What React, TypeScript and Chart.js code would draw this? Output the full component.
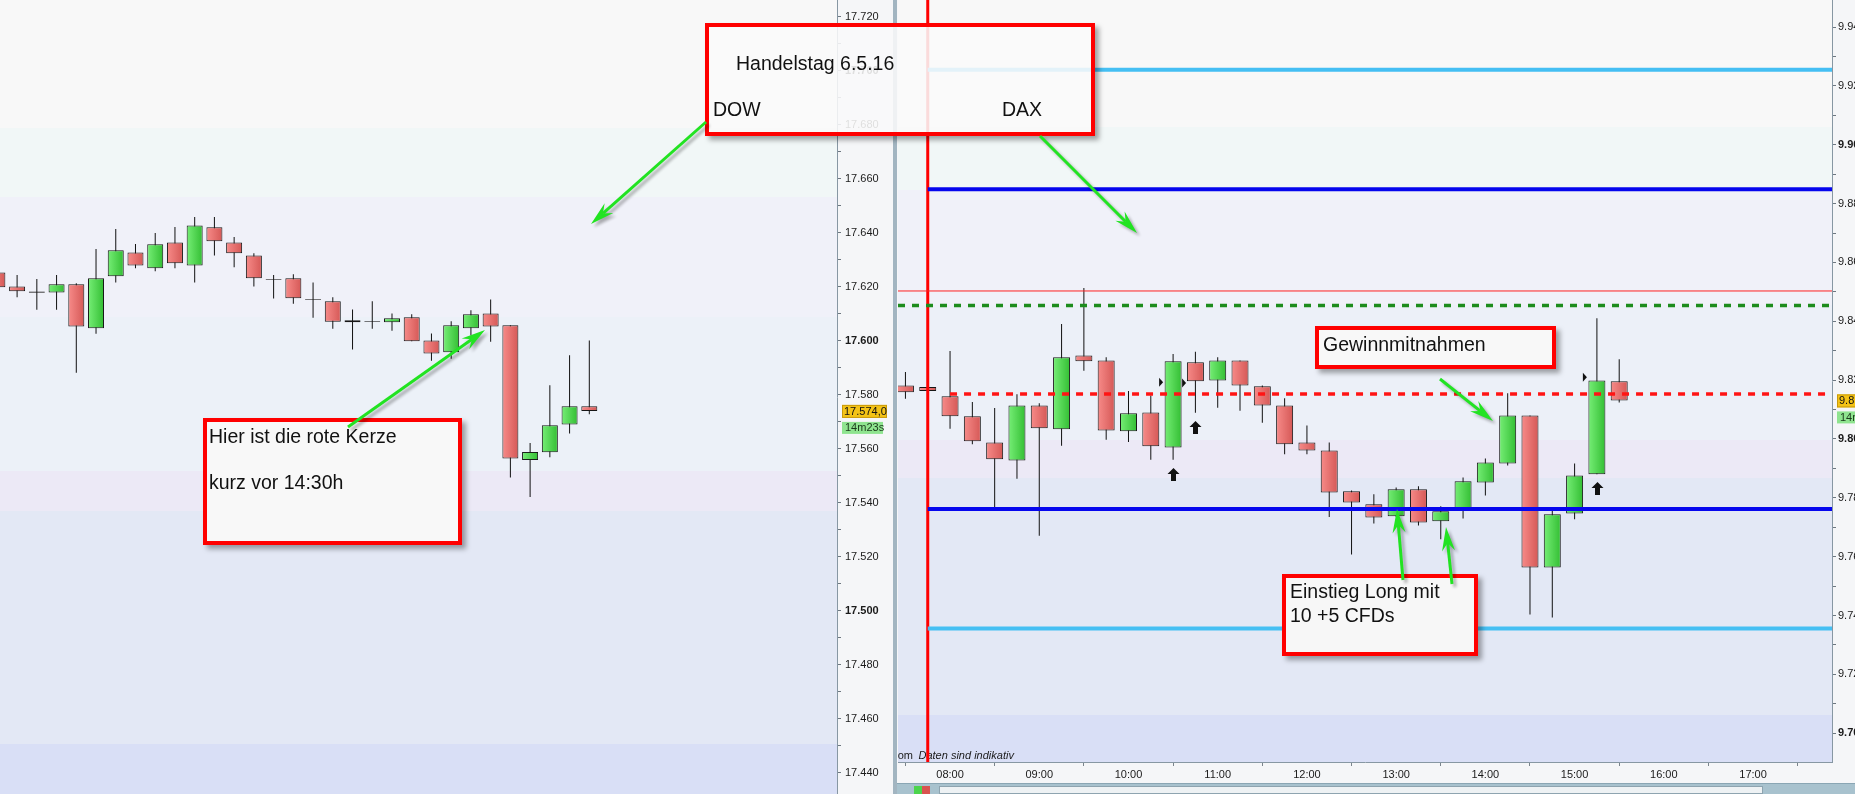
import React, { useEffect, useRef } from 'react';
import { Chart, registerables } from 'chart.js';

Chart.register(...registerables);

const AXIS_FONT = "'Liberation Sans', Arial, sans-serif";
const NOTE_FONT = "'Liberation Sans', Arial, sans-serif";

// ---------- DOW (15 min candles) ----------
const dowTimes = ['08:00','08:15','08:30','08:45','09:00','09:15','09:30','09:45','10:00','10:15','10:30','10:45','11:00','11:15','11:30','11:45','12:00','12:15','12:30','12:45','13:00','13:15','13:30','13:45','14:00','14:15','14:30','14:45','15:00','15:15','15:30'];
const dowOpen = [17625.3,17620.1,17618.2,17617.9,17620.9,17604.6,17623.9,17632.7,17626.8,17636.4,17627.9,17642.0,17636.4,17631.6,17622.8,17623.1,17615.4,17614.6,17606.8,17607.3,17606.8,17608.7,17600.1,17595.7,17604.6,17610.1,17605.7,17555.8,17558.7,17569.0,17575.7];
const dowHigh = [17626.0,17624.3,17622.9,17624.3,17621.3,17634.0,17641.4,17635.8,17639.9,17642.1,17645.8,17645.8,17638.4,17632.4,17624.3,17624.6,17621.6,17616.1,17611.6,17614.6,17610.1,17609.8,17602.7,17607.2,17611.3,17615.3,17605.7,17562.1,17583.5,17594.6,17600.1];
const dowLow = [17619.0,17616.1,17611.5,17611.5,17588.1,17602.6,17621.6,17626.8,17625.7,17626.8,17621.6,17631.6,17627.2,17620.1,17615.6,17613.7,17608.5,17604.4,17596.7,17604.4,17603.7,17599.8,17592.6,17593.3,17601.9,17599.6,17549.3,17542.1,17556.8,17565.6,17572.8];
const dowClose = [17619.8,17618.3,17617.8,17620.9,17605.3,17623.1,17633.5,17627.9,17635.7,17628.7,17642.7,17636.8,17632.4,17623.1,17622.5,17615.7,17615.1,17607.0,17607.6,17607.0,17608.3,17599.8,17595.3,17605.7,17609.8,17605.3,17556.4,17558.8,17568.7,17575.7,17574.0];
const dowYMin = 17432.1;
const dowYMax = 17726.2;
const dowXMin = 482.0;
const dowXMax = 1118.3;

// ---------- DAX (15 min candles) ----------
const daxTimes = ['07:30','07:45','08:00','08:15','08:30','08:45','09:00','09:15','09:30','09:45','10:00','10:15','10:30','10:45','11:00','11:15','11:30','11:45','12:00','12:15','12:30','12:45','13:00','13:15','13:30','13:45','14:00','14:15','14:30','14:45','15:00','15:15','15:30'];
const daxOpen = [9818.2,9817.7,9814.5,9807.7,9798.8,9792.7,9811.4,9803.3,9828.4,9826.7,9802.6,9809.0,9797.1,9826.1,9819.9,9826.7,9817.9,9811.4,9798.8,9796.1,9782.2,9777.8,9773.7,9782.9,9772.0,9776.4,9785.2,9791.7,9808.0,9756.3,9774.7,9788.0,9819.6];
const daxHigh = [9822.8,9817.7,9829.9,9812.6,9810.5,9815.2,9812.1,9839.1,9851.3,9827.8,9816.3,9814.8,9828.9,9829.6,9827.8,9826.7,9818.2,9813.8,9804.6,9798.8,9782.5,9781.2,9783.5,9783.9,9777.1,9786.9,9793.4,9815.5,9808.0,9775.7,9791.7,9841.0,9827.1];
const daxLow = [9813.7,9816.3,9803.5,9798.2,9776.9,9786.5,9767.1,9797.7,9823.2,9799.7,9799.0,9792.9,9792.9,9808.9,9810.6,9809.6,9805.5,9794.8,9794.8,9773.5,9760.7,9771.3,9773.5,9770.6,9765.9,9773.0,9780.8,9791.0,9740.3,9739.3,9772.7,9788.0,9812.4];
const daxClose = [9815.9,9816.3,9807.7,9799.2,9793.1,9811.4,9803.6,9827.8,9826.4,9802.9,9808.7,9797.5,9826.4,9819.6,9826.7,9818.2,9811.4,9798.2,9796.1,9781.8,9778.4,9773.3,9782.9,9771.6,9775.4,9785.6,9792.0,9808.0,9756.3,9774.4,9787.6,9819.9,9813.1];
const daxYMin = 9690.2;
const daxYMax = 9949.2;
const daxXMin = 445.0;
const daxXMax = 1073.1;

// DAX horizontal levels
const daxLevelValues = [9925.5, 9884.9, 9850.3, 9845.4, 9815.3, 9776.2, 9735.6];
const daxLevelStart = ['07:45', '07:45', null, null, '08:00', '07:45', '07:45'];
const daxSessionLine = '07:45';
const daxUpSignals = ['10:30', '10:45', '15:15'];
const daxTriTimes = ['10:30', '10:30', '15:15'];
const daxTriValues = [9819.3, 9819.0, 9821.0];
const daxTriSide = [-1, 1, -1];
const countdownText = '14m23s';

// styles (not data)
const levelStyles = [
  { color: '#45bff3', width: 4, dash: [] },
  { color: '#0606ee', width: 4, dash: [] },
  { color: '#ff2020', width: 1, dash: [] },
  { color: '#1d8c1d', width: 3.5, dash: [7, 7] },
  { color: '#ff1414', width: 3.5, dash: [7, 7] },
  { color: '#0606ee', width: 4, dash: [] },
  { color: '#45bff3', width: 4, dash: [] },
];
const leftBands: [number, string][] = [[0, '#f8f8f8'], [128, '#f1f7f7'], [197, '#f0f1f9'], [317, '#ecf1f8'], [471, '#ece9f6'], [511, '#e3e8f5'], [744, '#d9dff6']];
const rightBands: [number, string][] = [[0, '#f8f8f8'], [127, '#f1f7f7'], [190, '#f0f1f9'], [305, '#ecf0f8'], [440, '#ece9f6'], [478, '#e3e8f5'], [715, '#d9dff6']];

const toMin = (t: string) => { const [h, m] = t.split(':').map(Number); return h * 60 + m; };
const fmtThousand = (v: number) => { const s = String(Math.round(v)); return s.slice(0, -3) + '.' + s.slice(-3); };
const fmtPrice = (v: number) => { const [i, d] = v.toFixed(1).split('.'); return fmtThousand(Number(i)) + ',' + d; };
const fmtTime = (v: number) => `${String(Math.floor(v / 60)).padStart(2, '0')}:${String(Math.round(v % 60)).padStart(2, '0')}`;

const bodyFill = (o: number[], c: number[], w: number) => (ctx: any) => {
  if (ctx.type !== 'data') return '#e66c6a';
  const up = c[ctx.dataIndex] >= o[ctx.dataIndex];
  const xs = ctx.chart.scales && ctx.chart.scales.x;
  const solid = up ? '#4cd44c' : '#e66c6a';
  if (!xs || !ctx.raw) return solid;
  const px = xs.getPixelForValue(ctx.raw.x);
  if (!isFinite(px)) return solid;
  const g = ctx.chart.ctx.createLinearGradient(px - w / 2, 0, px + w / 2, 0);
  if (up) { g.addColorStop(0, '#76ee76'); g.addColorStop(1, '#33be33'); }
  else { g.addColorStop(0, '#f78b89'); g.addColorStop(1, '#d55856'); }
  return g;
};

function candleDatasets(times: string[], o: number[], h: number[], l: number[], c: number[], width: number) {
  const xs = times.map(toMin);
  return [
    { type: 'bar', data: xs.map((x, i) => ({ x, y: [l[i], h[i]] })), backgroundColor: '#111', borderWidth: 0, barThickness: 1, inflateAmount: 0, grouped: false, order: 2 },
    { type: 'bar', data: xs.map((x, i) => ({ x, y: [o[i], c[i]] })), backgroundColor: bodyFill(o, c, width), borderColor: '#161616', borderWidth: 1, borderSkipped: false, barThickness: width, inflateAmount: 0, grouped: false, order: 1 },
  ];
}

const priceAxis = (min: number, max: number, width: number, pad: number) => ({
  position: 'right', min, max,
  afterFit: (s: any) => { s.width = width; s.paddingTop = 0; s.paddingBottom = 0; },
  ticks: {
    stepSize: 10, includeBounds: false, autoSkip: false, padding: pad, color: '#1a1a1a',
    font: (c: any) => ({ family: AXIS_FONT, size: 11, weight: c.tick && Math.round(c.tick.value) % 100 === 0 ? 'bold' : 'normal' }),
    callback: (v: any) => (Math.round(Number(v)) % 20 === 0 ? fmtThousand(Number(v)) : ''),
  },
  grid: { drawOnChartArea: false, drawTicks: true, tickLength: 4, color: '#6d7780' },
  border: { display: true, color: '#8797a3' },
});

const bandsPlugin = (bands: [number, string][]) => ({
  id: 'bands',
  beforeDraw(chart: any) {
    const { ctx, chartArea: a } = chart;
    ctx.save();
    for (let i = 0; i < bands.length; i++) {
      const y0 = a.top + bands[i][0];
      const y1 = i + 1 < bands.length ? a.top + bands[i + 1][0] : a.bottom;
      ctx.fillStyle = bands[i][1];
      ctx.fillRect(a.left, y0, a.right - a.left, Math.min(y1, a.bottom) - y0);
    }
    ctx.restore();
  },
});

const lastPricePlugin = (value: number) => ({
  id: 'lastPrice',
  afterDraw(chart: any) {
    const { ctx } = chart;
    const ys = chart.scales.y;
    const y = ys.getPixelForValue(value);
    const x = ys.left + 5;
    ctx.save();
    ctx.fillStyle = '#f4c316';
    ctx.strokeStyle = '#c99a0a';
    ctx.fillRect(x, y - 6, 45, 13);
    ctx.strokeRect(x + 0.5, y - 5.5, 44, 12);
    ctx.fillStyle = '#111';
    ctx.font = `11px ${AXIS_FONT}`;
    ctx.textBaseline = 'middle';
    ctx.fillText(fmtPrice(value), x + 2, y + 1);
    ctx.fillStyle = '#8fe48f';
    ctx.fillRect(x, y + 11, 41, 12);
    ctx.fillStyle = '#1b3a1b';
    ctx.fillText(countdownText, x + 3, y + 17.5);
    ctx.restore();
  },
});

const daxMarksPlugin = {
  id: 'daxMarks',
  beforeDatasetsDraw(chart: any) {
    const { ctx, chartArea: a } = chart;
    ctx.save();
    ctx.beginPath();
    ctx.rect(a.left, a.top, a.right - a.left, a.bottom - a.top);
    ctx.clip();
    ctx.fillStyle = '#1a1a1a';
    ctx.textBaseline = 'alphabetic';
    ctx.font = `11px ${AXIS_FONT}`;
    ctx.textAlign = 'right';
    ctx.fillText('.com', a.left + 15, a.bottom - 3.5);
    ctx.textAlign = 'left';
    ctx.font = `italic 11px ${AXIS_FONT}`;
    ctx.fillText('Daten sind indikativ', a.left + 20.5, a.bottom - 3.5);
    ctx.restore();
  },
  afterDatasetsDraw(chart: any) {
    const { ctx } = chart;
    const xs = chart.scales.x, ys = chart.scales.y;
    ctx.save();
    ctx.fillStyle = '#111';
    daxUpSignals.forEach((t) => {
      const i = daxTimes.indexOf(t);
      const cx = Math.round(xs.getPixelForValue(toMin(t)));
      const top = Math.round(ys.getPixelForValue(daxLow[i])) + 8;
      ctx.beginPath();
      ctx.moveTo(cx + 0.5, top);
      ctx.lineTo(cx + 6.5, top + 6);
      ctx.lineTo(cx + 3, top + 6);
      ctx.lineTo(cx + 3, top + 13);
      ctx.lineTo(cx - 2, top + 13);
      ctx.lineTo(cx - 2, top + 6);
      ctx.lineTo(cx - 5.5, top + 6);
      ctx.closePath();
      ctx.fill();
    });
    daxTriTimes.forEach((t, k) => {
      const cx = xs.getPixelForValue(toMin(t));
      const y = ys.getPixelForValue(daxTriValues[k]);
      const x0 = daxTriSide[k] < 0 ? cx - 14 : cx + 9;
      ctx.beginPath();
      ctx.moveTo(x0, y - 4.5);
      ctx.lineTo(x0 + 4, y);
      ctx.lineTo(x0, y + 4.5);
      ctx.closePath();
      ctx.fill();
    });
    ctx.restore();
  },
};

type Arrow = { x1: number; y1: number; x2: number; y2: number };
const arrows: Arrow[] = [
  { x1: 706, y1: 122, x2: 591, y2: 224 },
  { x1: 1040, y1: 136, x2: 1137, y2: 233 },
  { x1: 348, y1: 427, x2: 485, y2: 330 },
  { x1: 1440, y1: 379, x2: 1493, y2: 421 },
  { x1: 1403, y1: 580, x2: 1397, y2: 509 },
  { x1: 1452, y1: 584, x2: 1446, y2: 527 },
];

function arrowGeom(a: Arrow) {
  const dx = a.x2 - a.x1, dy = a.y2 - a.y1;
  const len = Math.hypot(dx, dy);
  const ux = dx / len, uy = dy / len, nx = -uy, ny = ux;
  const L = 24, W = 6.5, N = 16;
  const bx = a.x2 - ux * L, by = a.y2 - uy * L;
  const mx = a.x2 - ux * N, my = a.y2 - uy * N;
  const head = `${a.x2},${a.y2} ${bx + nx * W},${by + ny * W} ${mx},${my} ${bx - nx * W},${by - ny * W}`;
  return { head, mx, my };
}

type BoxDef = { left: number; top: number; width: number; height: number; bg: string };
const boxes: BoxDef[] = [
  { left: 705, top: 23, width: 390, height: 113, bg: 'rgba(249,249,249,0.88)' },
  { left: 203, top: 418, width: 259, height: 127, bg: '#f8f8f8' },
  { left: 1315, top: 326, width: 241, height: 43, bg: '#f8f8f8' },
  { left: 1282, top: 574, width: 196, height: 82, bg: '#f7f7f7' },
];
type TextDef = { x: number; baseline: number; text: string };
const notes: TextDef[] = [
  { x: 736, baseline: 71, text: 'Handelstag 6.5.16' },
  { x: 713, baseline: 117, text: 'DOW' },
  { x: 1002, baseline: 117, text: 'DAX' },
  { x: 209, baseline: 444, text: 'Hier ist die rote Kerze' },
  { x: 209, baseline: 490, text: 'kurz vor 14:30h' },
  { x: 1323, baseline: 352, text: 'Gewinnmitnahmen' },
  { x: 1290, baseline: 599, text: 'Einstieg Long mit' },
  { x: 1290, baseline: 623, text: '10 +5 CFDs' },
];
const NOTE_SIZE = 19.5;

export default function App() {
  const leftRef = useRef<HTMLCanvasElement>(null);
  const rightRef = useRef<HTMLCanvasElement>(null);

  useEffect(() => {
    const left = new Chart(leftRef.current as HTMLCanvasElement, {
      type: 'bar',
      data: { datasets: candleDatasets(dowTimes, dowOpen, dowHigh, dowLow, dowClose, 16) as any },
      options: {
        animation: false,
        responsive: false,
        maintainAspectRatio: false,
        layout: { padding: 0 },
        plugins: { legend: { display: false }, tooltip: { enabled: false } },
        scales: {
          x: { type: 'linear', min: dowXMin, max: dowXMax, offset: false, display: false },
          y: priceAxis(dowYMin, dowYMax, 56, 4) as any,
        },
      } as any,
      plugins: [bandsPlugin(leftBands), lastPricePlugin(dowClose[dowClose.length - 1])] as any,
    });

    const levelSets = daxLevelValues.map((v, k) => ({
      type: 'line',
      data: [
        { x: daxLevelStart[k] ? toMin(daxLevelStart[k] as string) : daxXMin, y: v },
        { x: daxXMax, y: v },
      ],
      borderColor: levelStyles[k].color,
      borderWidth: levelStyles[k].width,
      borderDash: levelStyles[k].dash,
      borderCapStyle: 'butt',
      pointRadius: 0,
      fill: false,
      tension: 0,
      order: 0,
    }));
    const sessionSet = {
      type: 'line',
      data: [{ x: toMin(daxSessionLine), y: daxYMin }, { x: toMin(daxSessionLine), y: daxYMax }],
      borderColor: '#ff0000',
      borderWidth: 3,
      pointRadius: 0,
      fill: false,
      order: 0,
    };

    const right = new Chart(rightRef.current as HTMLCanvasElement, {
      type: 'bar',
      data: { datasets: [...candleDatasets(daxTimes, daxOpen, daxHigh, daxLow, daxClose, 17), ...levelSets, sessionSet] as any },
      options: {
        animation: false,
        responsive: false,
        maintainAspectRatio: false,
        layout: { padding: { left: 1, top: 0, right: 0, bottom: 0 } },
        plugins: { legend: { display: false }, tooltip: { enabled: false } },
        scales: {
          x: {
            type: 'linear', min: daxXMin, max: daxXMax, offset: false, position: 'bottom',
            afterFit: (s: any) => { s.height = 32; s.paddingLeft = 0; s.paddingRight = 0; },
            ticks: { stepSize: 60, includeBounds: false, autoSkip: false, maxRotation: 0, padding: 2, color: '#1a1a1a', font: { family: AXIS_FONT, size: 11 }, callback: (v: any) => fmtTime(Number(v)) },
            grid: { drawOnChartArea: false, tickLength: 4, color: '#7a848c' },
            border: { display: true, color: '#8797a3' },
          },
          y: priceAxis(daxYMin, daxYMax, 23, 2) as any,
        },
      } as any,
      plugins: [bandsPlugin(rightBands), daxMarksPlugin, lastPricePlugin(daxClose[daxClose.length - 1])] as any,
    });

    return () => { left.destroy(); right.destroy(); };
  }, []);

  return (
    <div style={{ position: 'fixed', left: 0, top: 0, width: 1855, height: 794, overflow: 'hidden', background: '#f5f6f8' }}>
      <canvas ref={leftRef} width={893} height={794} style={{ position: 'absolute', left: 0, top: 0, width: 893, height: 794 }} />
      <div style={{ position: 'absolute', left: 893, top: 0, width: 4, height: 794, background: '#a2b5c1' }} />
      <canvas ref={rightRef} width={958} height={794} style={{ position: 'absolute', left: 897, top: 0, width: 958, height: 794 }} />
      <div style={{ position: 'absolute', left: 897, top: 783, width: 958, height: 11, background: '#a8c2ce', borderTop: '1px solid #8aa6b4', boxSizing: 'border-box' }} />
      <div style={{ position: 'absolute', left: 914, top: 786, width: 16, height: 8, background: '#d9534f', borderLeft: '8px solid #4cd44c', boxSizing: 'border-box' }} />
      <div style={{ position: 'absolute', left: 939, top: 786, width: 824, height: 8, background: '#eef2f4', border: '1px solid #8ea4b0', boxSizing: 'border-box' }} />
      {boxes.map((b, i) => (
        <div key={'b' + i} style={{ position: 'absolute', left: b.left, top: b.top, width: b.width, height: b.height, boxSizing: 'border-box', border: '4px solid #ff0000', background: b.bg, boxShadow: '4px 4px 5px rgba(0,0,0,0.35)' }} />
      ))}
      {notes.map((t, i) => (
        <div key={'t' + i} style={{ position: 'absolute', left: t.x, top: t.baseline - 0.8465 * NOTE_SIZE, fontFamily: NOTE_FONT, fontSize: NOTE_SIZE, lineHeight: `${NOTE_SIZE}px`, color: '#111', whiteSpace: 'nowrap' }}>{t.text}</div>
      ))}
      <svg width={1855} height={794} style={{ position: 'absolute', left: 0, top: 0, pointerEvents: 'none' }}>
        <defs>
          <filter id="blur" x="-20%" y="-20%" width="140%" height="140%"><feGaussianBlur stdDeviation="1.5" /></filter>
        </defs>
        <g transform="translate(3,3)" filter="url(#blur)" opacity={0.3}>
          {arrows.map((a, i) => {
            const g = arrowGeom(a);
            return (
              <g key={'s' + i}>
                <line x1={a.x1} y1={a.y1} x2={g.mx} y2={g.my} stroke="#000" strokeWidth={3} />
                <polygon points={g.head} fill="#000" />
              </g>
            );
          })}
        </g>
        {arrows.map((a, i) => {
          const g = arrowGeom(a);
          return (
            <g key={'a' + i}>
              <line x1={a.x1} y1={a.y1} x2={g.mx} y2={g.my} stroke="#22e322" strokeWidth={3} />
              <polygon points={g.head} fill="#22e322" />
            </g>
          );
        })}
      </svg>
    </div>
  );
}
